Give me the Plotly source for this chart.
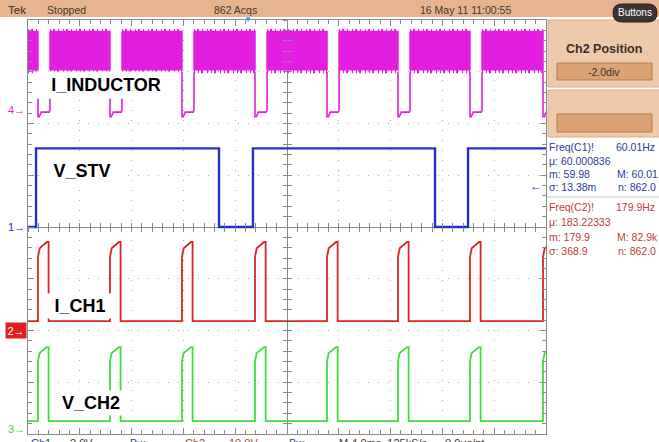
import plotly.graph_objects as go

# ---------------- data (time in ms, levels in screen divisions) ----------------
T_RANGE_MS = [-20, 20]          # M 4.0 ms/div, 10 divisions
Y_RANGE_DIV = [-4, 4]

# start times of the 180 Hz pulses (I_CH1 / V_CH2) and inductor-current gaps
PULSE_START_MS = [-19.23, -13.67, -8.11, -2.47, 3.09, 8.57, 14.13, 19.77]
# pulse shape: time offset and fraction of the pulse height
PULSE_OFFSET_MS = [0.0, 0.0, 0.13, 0.39, 0.70, 0.82, 0.82]
PULSE_FRACTION = [0.0, 0.81, 0.92, 0.96, 1.0, 1.0, 0.0]

CH1_BASE_DIV, CH1_TOP_DIV = -1.82, -0.29     # I_CH1 (red)
CH2_BASE_DIV, CH2_TOP_DIV = -3.75, -2.32     # V_CH2 (green)

# I_INDUCTOR (magenta): switching band and the drop-outs during each pulse
IND_TOP_DIV, IND_BOTTOM_DIV = 3.78, 3.04
GAP_WIDTH_MS = 0.93
GAP_OFFSET_MS = [0.0, 0.0, 0.10, 0.25, 0.86, 0.93, 0.93]
GAP_LEVEL_DIV = [3.0, 2.13, 2.13, 2.22, 2.22, 2.26, 3.0]

# V_STV (blue): 60 Hz square wave
STV_EDGES_MS = [-19.38, -5.25, -2.63, 11.43, 13.98]
STV_LOW_DIV, STV_HIGH_DIV = 0.0, 1.52

# measurement panel
MEAS_C1 = ["Freq(C1)!", "60.01Hz", "\u03bc: 60.000836", "m: 59.98", "M: 60.01", "\u03c3: 13.38m", "n: 862.0"]
MEAS_C2 = ["Freq(C2)!", "179.9Hz", "\u03bc: 183.22333", "m: 179.9", "M: 82.9k", "\u03c3: 368.9", "n: 862.0"]

# ---------------- styling / geometry ----------------
FONT = "Liberation Sans, Arial, sans-serif"
PINK, BLUE, RED, GREEN = "#E41EE0", "#2034C4", "#DC2424", "#44DA44"
GRAT, GRIDC = "#8A8A8A", "#A8A8A8"
TAN, TAN_BOX, TAN_IN = "#E6B48E", "#EDCAAC", "#DCA274"
TXT = "#45372D"
MBLUE, MRED = "#2A3CA0", "#B8403A"

W, H = 659, 442
ML, MR, MT, MB = 28, 113, 20, 8
PW, PH = W - ML - MR, H - MT - MB


def px(x):
    return (x - ML) / PW


def py(y):
    return (H - MB - y) / PH


# ---------------- build traces ----------------
segments = []
a = T_RANGE_MS[0]
for s in PULSE_START_MS:
    if s > a:
        segments.append((a, s))
    a = s + GAP_WIDTH_MS
if a < T_RANGE_MS[1]:
    segments.append((a, T_RANGE_MS[1]))

band_x, band_y, edge_x, top_y, bot_y = [], [], [], [], []
for a, b in segments:
    band_x += [a, b, b, a, a, None]
    band_y += [IND_TOP_DIV, IND_TOP_DIV, IND_BOTTOM_DIV, IND_BOTTOM_DIV, IND_TOP_DIV, None]
    edge_x += [a, b, None]
    top_y += [IND_TOP_DIV, IND_TOP_DIV, None]
    bot_y += [IND_BOTTOM_DIV, IND_BOTTOM_DIV, None]

gap_x, gap_y = [], []
for s in PULSE_START_MS:
    gap_x += [s + o for o in GAP_OFFSET_MS] + [None]
    gap_y += GAP_LEVEL_DIV + [None]


def pulse_train(base, top):
    xs, ys = [T_RANGE_MS[0]], [base]
    for s in PULSE_START_MS:
        xs += [s + o for o in PULSE_OFFSET_MS]
        ys += [base + f * (top - base) for f in PULSE_FRACTION]
    if PULSE_START_MS[-1] + PULSE_OFFSET_MS[-1] < T_RANGE_MS[1]:
        xs.append(T_RANGE_MS[1])
        ys.append(base)
    return xs, ys


r_x, r_y = pulse_train(CH1_BASE_DIV, CH1_TOP_DIV)
g_x, g_y = pulse_train(CH2_BASE_DIV, CH2_TOP_DIV)

stv_x = [T_RANGE_MS[0]] + STV_EDGES_MS + [T_RANGE_MS[1]]
stv_levels = [STV_LOW_DIV, STV_HIGH_DIV]
stv_y = [stv_levels[i % 2] for i in range(len(STV_EDGES_MS) + 1)]
stv_y.append(stv_y[-1])

fig = go.Figure()
fig.add_trace(go.Scatter(x=band_x, y=band_y, mode="lines", fill="toself", fillcolor=PINK,
                         line=dict(color=PINK, width=1.5), hoverinfo="skip"))
# ragged (noisy) band edges
fig.add_trace(go.Scatter(x=edge_x, y=top_y, mode="lines", hoverinfo="skip",
                         line=dict(color=PINK, width=5, dash="1px,2px,2px,3px,1px,4px")))
fig.add_trace(go.Scatter(x=edge_x, y=bot_y, mode="lines", hoverinfo="skip",
                         line=dict(color=PINK, width=7, dash="1px,3px,1px,2px,2px,4px")))
fig.add_trace(go.Scatter(x=gap_x, y=gap_y, mode="lines", line=dict(color=PINK, width=1.6), hoverinfo="skip"))
fig.add_trace(go.Scatter(x=stv_x, y=stv_y, mode="lines", line=dict(color=BLUE, width=2.4, shape="hv"),
                         hoverinfo="skip"))
fig.add_trace(go.Scatter(x=r_x, y=r_y, mode="lines", line=dict(color=RED, width=1.8), hoverinfo="skip"))
fig.add_trace(go.Scatter(x=g_x, y=g_y, mode="lines", line=dict(color=GREEN, width=1.8), hoverinfo="skip"))

# empty traces so the centre-graticule tick axes exist
for xa, ya in [("x2", "y"), ("x3", "y"), ("x", "y2"), ("x", "y3")]:
    fig.add_trace(go.Scatter(x=[None], y=[None], xaxis=xa, yaxis=ya, hoverinfo="skip"))

common_hidden = dict(showticklabels=False, showgrid=False, zeroline=False, showline=False, fixedrange=True)
fig.update_layout(
    width=W, height=H, margin=dict(l=ML, r=MR, t=MT, b=MB),
    paper_bgcolor="white", plot_bgcolor="white", showlegend=False,
    xaxis=dict(range=T_RANGE_MS, tick0=-20, dtick=4, ticks="inside", ticklen=6, tickcolor=GRAT,
               showticklabels=False, showline=True, linecolor=GRAT, linewidth=1, mirror="ticks",
               showgrid=True, gridcolor=GRIDC, griddash="1px,9px", gridwidth=1,
               zeroline=True, zerolinecolor=GRAT, zerolinewidth=1,
               minor=dict(dtick=0.8, tick0=-20, ticks="inside", ticklen=4, tickcolor=GRAT, showgrid=False),
               fixedrange=True),
    yaxis=dict(range=Y_RANGE_DIV, tick0=-4, dtick=1, ticks="inside", ticklen=6, tickcolor=GRAT,
               showticklabels=False, showline=True, linecolor=GRAT, linewidth=1, mirror="ticks",
               showgrid=True, gridcolor=GRIDC, griddash="1px,9px", gridwidth=1,
               zeroline=True, zerolinecolor=GRAT, zerolinewidth=1,
               minor=dict(dtick=0.2, tick0=-4, ticks="inside", ticklen=4, tickcolor=GRAT, showgrid=False),
               fixedrange=True),
    xaxis2=dict(overlaying="x", anchor="free", position=0.5, side="bottom", range=T_RANGE_MS,
                tick0=-20, dtick=0.8, ticks="inside", ticklen=4, tickcolor=GRAT, **common_hidden),
    xaxis3=dict(overlaying="x", anchor="free", position=0.5, side="bottom", range=T_RANGE_MS,
                tick0=-20, dtick=0.8, ticks="outside", ticklen=4, tickcolor=GRAT, **common_hidden),
    yaxis2=dict(overlaying="y", anchor="free", position=0.5, side="left", range=Y_RANGE_DIV,
                tick0=-4, dtick=0.2, ticks="inside", ticklen=4, tickcolor=GRAT, **common_hidden),
    yaxis3=dict(overlaying="y", anchor="free", position=0.5, side="left", range=Y_RANGE_DIV,
                tick0=-4, dtick=0.2, ticks="outside", ticklen=4, tickcolor=GRAT, **common_hidden),
)

# ---------------- shapes (instrument chrome) ----------------
shapes = []


def rect(x0, y0, x1, y1, fill, line=None, lw=0):
    shapes.append(dict(type="rect", xref="paper", yref="paper", x0=px(x0), x1=px(x1), y0=py(y1), y1=py(y0),
                       fillcolor=fill, line=dict(color=line or fill, width=lw), layer="above"))


rect(0, 0, W, 17, TAN)
rect(548, 20, W + 2, 87, TAN_BOX, "#D9AE8C", 1)
rect(557, 63, 652, 80, TAN_IN, "#B47C52", 1)
rect(548, 90, W + 2, 137, TAN_BOX, "#D9AE8C", 1)
rect(557, 114, 652, 132, TAN_IN, "#B47C52", 1)

# rounded "Buttons" pill
l, r, t, b, rad = 613, 657, 4, 22, 9
pts = [("M", [(l + rad, t)]), ("L", [(r - rad, t)]), ("Q", [(r, t), (r, (t + b) / 2)]),
       ("Q", [(r, b), (r - rad, b)]), ("L", [(l + rad, b)]), ("Q", [(l, b), (l, (t + b) / 2)]),
       ("Q", [(l, t), (l + rad, t)])]
path = " ".join(cmd + " " + " ".join(f"{px(x):.5f},{py(y):.5f}" for x, y in p) for cmd, p in pts) + " Z"
shapes.append(dict(type="path", xref="paper", yref="paper", path=path, fillcolor="#3A3533",
                   line=dict(color="#222", width=1), layer="above"))

# separator between measurement blocks
shapes.append(dict(type="line", xref="paper", yref="paper", x0=px(547), x1=px(W), y0=py(197), y1=py(197),
                   line=dict(color="#C8C8C8", width=1), layer="above"))
# text cursor bar next to I_CH1 label
shapes.append(dict(type="line", xref="paper", yref="paper", x0=px(51), x1=px(51), y0=py(297), y1=py(312),
                   line=dict(color="black", width=2), layer="above"))
fig.update_layout(shapes=shapes)

# ---------------- annotations ----------------
ann = []


def text(s, x, y, size=11, color=TXT, xanchor="left", yanchor="middle", bold=False, **kw):
    ann.append(dict(text=f"<b>{s}</b>" if bold else s, x=px(x), y=py(y), xref="paper", yref="paper",
                    xanchor=xanchor, yanchor=yanchor, showarrow=False,
                    font=dict(family=FONT, size=size, color=color), **kw))


# top status bar
text("Tek", 6, 9.5, size=11.5, color="#3A2E26")
text("Stopped", 45, 9.5, size=10.5)
text("862 Acqs", 212, 9.5, size=10.5)
text("16 May 11 11:00:55", 418, 9.5, size=10.5)
text("Buttons", 635, 13, size=10, color="white", xanchor="center")
text("\u25bc", 248, 19.5, size=8, color="#3A8FD8", xanchor="center")

# right panel
text("Ch2 Position", 604, 49, size=12.5, color="#3C2E26", xanchor="center", bold=True)
text("-2.0div", 604, 72, size=10.5, color="#3C2E26", xanchor="center")

for block, ys, col in [(MEAS_C1, [147, 161, 174, 187], MBLUE), (MEAS_C2, [207, 222, 237, 251], MRED)]:
    text(block[0], 547, ys[0], size=10.5, color=col)
    text(block[1], 657, ys[0], size=10.5, color=col, xanchor="right")
    text(block[2], 547, ys[1], size=10.5, color=col)
    text(block[3], 547, ys[2], size=10.5, color=col)
    text(block[4], 615, ys[2], size=10.5, color=col)
    text(block[5], 547, ys[3], size=10.5, color=col)
    text(block[6], 616, ys[3], size=10.5, color=col)

# trigger level arrow on right edge
text("\u2190", 544, 186, size=12, color=BLUE, xanchor="right")

# channel markers on left
text("4\u2192", 27, 110, size=11, color=PINK, xanchor="right")
text("1\u2192", 27, 227, size=11, color=BLUE, xanchor="right")
text("2\u2192", 27, 330, size=11, color="white", xanchor="right", bgcolor="#E02020", width=18, height=13)
text("3\u2192", 27, 429, size=11, color=GREEN, xanchor="right")

# waveform labels with white boxes
text("I_INDUCTOR", 106, 84.5, size=18, color="black", xanchor="center", bold=True,
     bgcolor="white", width=142, height=24)
text("V_STV", 81.5, 171.5, size=18, color="black", xanchor="center", bold=True,
     bgcolor="white", width=74, height=22)
text("I_CH1", 80, 305.5, size=18, color="black", xanchor="center", bold=True,
     bgcolor="white", width=64, height=22)
text("V_CH2", 91, 403, size=18, color="black", xanchor="center", bold=True,
     bgcolor="white", width=64, height=22)

# bottom status line (mostly cut off by the window, as in the reference)
for s, x, col in [("Ch1", 29, MBLUE), ("2.0V", 68, TXT), ("Bw", 128, MBLUE), ("Ch2", 183, MRED),
                  ("10.0V", 227, MRED), ("Bw", 287, MBLUE), ("M 4.0ms  125kS/s", 337, TXT),
                  ("0.0\u03bcs/pt", 443, TXT)]:
    text(s, x, 435, size=11, color=col, yanchor="top")

fig.update_layout(annotations=ann)

fig.write_html("out.html", config={"displayModeBar": False},
               post_script="document.body.style.margin='0';document.body.style.overflow='hidden';")
